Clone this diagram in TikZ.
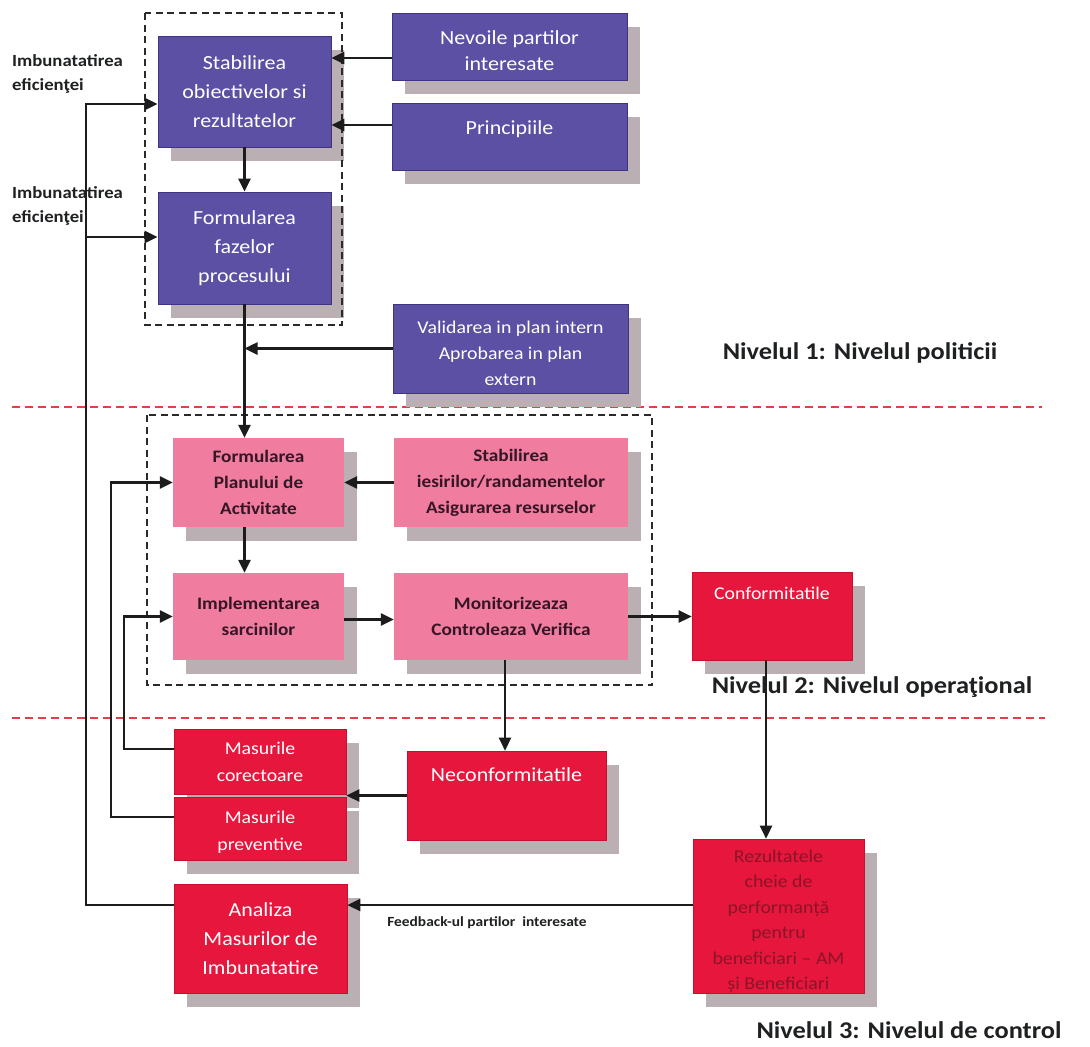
\documentclass[tikz,border=0pt]{standalone}
\usepackage{fontspec}
\setmainfont{Carlito}[FakeStretch=1.1]
\usetikzlibrary{arrows.meta,shadows}

\definecolor{purplebox}{RGB}{91,80,163}
\definecolor{purpleedge}{RGB}{62,52,128}
\definecolor{pinkbox}{RGB}{240,124,160}
\definecolor{redbox}{RGB}{230,22,60}
\definecolor{rededge}{RGB}{200,15,45}
\definecolor{shadowgray}{RGB}{186,176,180}
\definecolor{pinktext}{RGB}{52,22,36}
\definecolor{darktext}{RGB}{30,32,34}
\definecolor{rezulttext}{RGB}{140,20,40}
\definecolor{levelline}{RGB}{226,64,72}
\definecolor{groupline}{RGB}{42,42,42}
\definecolor{connector}{RGB}{28,28,28}

% a strut that lowers the first line of a box text
\newcommand{\firstlift}[1]{\rule{0pt}{#1}}

\begin{document}
\begin{tikzpicture}[x=1pt,y=-1pt,
  shadowed/.style={drop shadow={shadow xshift=13pt,shadow yshift=-14pt,fill=shadowgray,opacity=1}},
  box/.style={rectangle,inner sep=0pt,align=center,shadowed},
  pbox/.style={box,fill=purplebox,draw=purpleedge,line width=0.8pt,text=white,
    font=\fontsize{20}{29}\selectfont},
  kbox/.style={box,fill=pinkbox,text=pinktext,font=\bfseries\fontsize{17.5}{26}\selectfont},
  rbox/.style={box,fill=redbox,draw=rededge,line width=0.6pt,text=white,
    font=\fontsize{20}{29}\selectfont},
  line/.style={draw=connector,line width=2.5pt},
  arr/.style={line,-{Triangle[length=13pt,width=12pt]}},
  groupbox/.style={draw=groupline,line width=2.2pt,dash pattern=on 7pt off 4.5pt},
  levelsep/.style={draw=levelline,line width=2pt,dash pattern=on 8pt off 5pt},
  leveltitle/.style={text=darktext,font=\bfseries\fontsize{24}{28}\selectfont},
  sidenote/.style={text=darktext,align=left,anchor=west,inner sep=0pt,
    font=\bfseries\fontsize{17}{24}\selectfont}
]
\useasboundingbox (0,0) rectangle (1090,1047);
\fill[white] (0,0) rectangle (1090,1047);

% level separators
\draw[levelsep] (12,407) -- (1042,407);
\draw[levelsep] (12,718) -- (1045,718);

% level 1: policy
\node[pbox,minimum width=173pt,minimum height=111pt] (stab) at (244.5,91.5)
  {Stabilirea\\obiectivelor si\\rezultatelor};
\node[pbox,minimum width=173pt,minimum height=112pt] (faz) at (244.5,248)
  {Formularea\\fazelor\\procesului};
\node[pbox,minimum width=235pt,minimum height=67pt,font=\fontsize{20}{26}\selectfont] (nev) at (509.5,46.5)
  {\firstlift{23pt}Nevoile partilor\\interesate};
\node[pbox,minimum width=235pt,minimum height=67pt,text height=31.5pt,text depth=35.5pt] (princ) at (509.5,136.5)
  {Principiile};
\node[pbox,minimum width=235pt,minimum height=89pt,font=\fontsize{18}{26}\selectfont] (val) at (510.5,348.5)
  {\firstlift{21.5pt}Validarea in plan intern\\Aprobarea in plan\\extern};

% level 2: operational
\node[kbox,minimum width=171pt,minimum height=89pt] (plan) at (258.5,482.5)
  {Formularea\\Planului de\\Activitate};
\node[kbox,minimum width=234pt,minimum height=89pt] (iesi) at (511,482.5)
  {Stabilirea\\iesirilor/randamentelor\\Asigurarea resurselor};
\node[kbox,minimum width=171pt,minimum height=87pt] (impl) at (258.5,616.5)
  {Implementarea\\sarcinilor};
\node[kbox,minimum width=234pt,minimum height=87pt] (mon) at (511,616.5)
  {Monitorizeaza\\Controleaza Verifica};
\node[rbox,minimum width=160pt,minimum height=88pt,font=\fontsize{18}{26}\selectfont,
  text height=27pt,text depth=61pt] (conf) at (772,616)
  {Conformitatile};

% level 3: control
\node[rbox,minimum width=172pt,minimum height=65pt,font=\fontsize{18}{27}\selectfont] (cor) at (260,761.5)
  {Masurile\\corectoare};
\node[rbox,minimum width=172pt,minimum height=63pt,font=\fontsize{18}{27}\selectfont] (prev) at (260,828.5)
  {\firstlift{19pt}Masurile\\preventive};
\node[rbox,minimum width=199pt,minimum height=89pt,text height=30.5pt,text depth=58.5pt] (necon) at (506.5,795.5)
  {Neconformitatile};
\node[rbox,minimum width=173pt,minimum height=109pt] (ana) at (260.5,938.5)
  {Analiza\\Masurilor de\\Imbunatatire};
\node[rbox,minimum width=171pt,minimum height=154pt,text=rezulttext,
  font=\fontsize{18}{25.5}\selectfont] (rez) at (778.5,916)
  {\firstlift{23pt}Rezultatele\\cheie de\\performanță\\pentru\\beneficiari – AM\\și Beneficiari};

% dashed groupings
\draw[groupbox] (145,13) rectangle (342,325);
\draw[groupbox] (147,415) rectangle (652,685);

% anchor points of the connectors
\coordinate (loopA) at (86,0);
\coordinate (loopB) at (111,0);
\coordinate (loopC) at (124,0);
\coordinate (nevOut) at ([yshift=-11.5pt]nev.west);
\coordinate (princOut) at ([yshift=11.5pt]princ.west);
\coordinate (stabIn) at ([yshift=-12.5pt]stab.west);
\coordinate (fazIn) at ([yshift=11pt]faz.west);
\coordinate (anaOut) at ([yshift=33.5pt]ana.west);
\coordinate (implOut) at ([yshift=-3pt]impl.east);
\coordinate (monOut) at ([xshift=-6pt]mon.south);
\coordinate (confOut) at ([xshift=-6pt]conf.south);
\coordinate (rezOut) at ([yshift=11pt]rez.west);
\coordinate (corOut) at ([yshift=12.5pt]cor.west);
\coordinate (prevOut) at ([yshift=11.5pt]prev.west);

% connectors
\draw[arr] (nevOut) -- (nevOut -| stab.east);
\draw[arr] (princOut) -- (princOut -| stab.east);
\draw[arr] (stab.south) -- (faz.north);
\draw[arr] (val.west) -- (val.west -| faz.south);
\draw[arr] (faz.south) -- (faz.south |- plan.north);
\draw[arr] (faz.south |- plan.south) -- (faz.south |- impl.north);
\draw[arr] (iesi.west) -- (plan.east);
\draw[arr] (implOut) -- (implOut -| mon.west);
\draw[arr] (mon.east) -- (mon.east -| conf.west);
\draw[arr] (monOut) -- (monOut |- necon.north);
\draw[arr] (confOut) -- (confOut |- rez.north);
\draw[arr] (rezOut) -- (rezOut -| ana.east);
\draw[arr] (necon.west) -- (necon.west -| cor.east);
\draw[arr] (corOut) -| (loopC |- impl.west) -- (impl.west);
\draw[arr] (prevOut) -| (loopB |- plan.west) -- (plan.west);
\draw[arr] (anaOut) -| (loopA |- stabIn) -- (stabIn);
\draw[arr] (loopA |- fazIn) -- (fazIn);

% side notes and labels
\node[sidenote] (imb1) at (12,74) {Imbunatatirea\\eficienţei};
\node[sidenote] (imb2) at (12,206) {Imbunatatirea\\eficienţei};
\node[text=darktext,font=\bfseries\fontsize{14}{16}\selectfont] (fbk) at (487,923)
  {Feedback-ul partilor\ \ interesate};
\node[leveltitle] (lvl1) at (860,353) {Nivelul 1: Nivelul politicii};
\node[leveltitle] (lvl2) at (872,687) {Nivelul 2: Nivelul operaţional};
\node[leveltitle] (lvl3) at (909,1030) {Nivelul 3: Nivelul de control};
\end{tikzpicture}
\end{document}
